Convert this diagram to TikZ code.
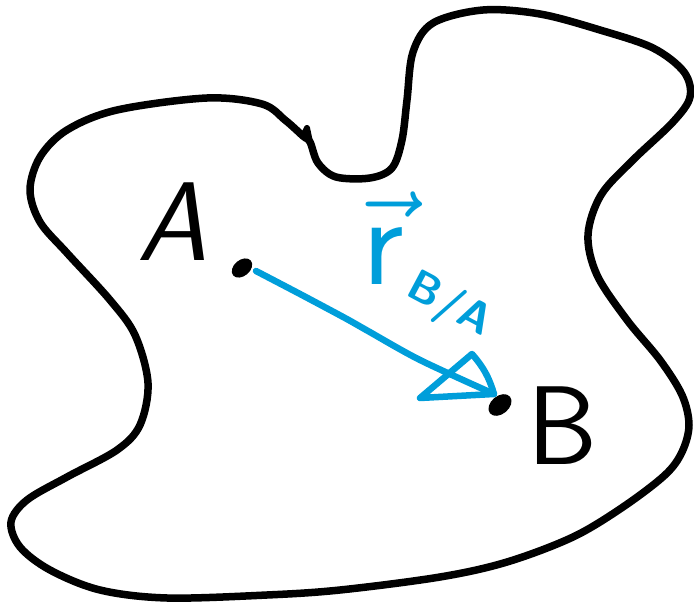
\RequirePackage{fix-cm}
\documentclass[tikz,border=0pt]{standalone}
\usepackage{graphicx}
\usetikzlibrary{calc}
\definecolor{vecblue}{RGB}{0,158,218}
\begin{document}
\begin{tikzpicture}[x=1pt,y=-1pt,line cap=round,line join=round,
  outline/.style={draw=black,line width=7.5pt},
  vecline/.style={draw=vecblue,line width=6.5pt},
  ptlabel/.style={font=\fontsize{112}{112}\selectfont\sffamily,text=black,inner sep=0pt}]
\useasboundingbox (0,0) rectangle (694,604);
% body outline
\draw[outline] plot[smooth cycle,tension=0.55] coordinates {
 (310,142) (318,163) (336,177) (370,178) (392,168) (402,140) (407,100)
 (413,52) (433,23) (483,10) (540,14) (600,30) (653,48) (684,72) (690,97)
 (673,122) (633,160) (601,195) (588,235) (597,275) (627,320) (660,360)
 (682,395) (689,425) (682,452) (665,475) (623,507) (573,537) (507,562)
 (440,577) (340,590) (267,595) (167,598) (100,590) (50,570) (20,547)
 (11,522) (27,500) (67,477) (117,450) (140,425) (148,383) (135,335)
 (110,300) (67,253) (40,222) (30,190) (40,157) (67,130) (117,110)
 (207,98) (262,104) (285,120) (303,136)};
\draw[outline,line width=6pt] (303,136) -- (307,128) -- (310,142);
% points
\coordinate (A) at (242,268);
\coordinate (B) at (500,405);
\fill[rotate around={40:(A)}] (A) ellipse [x radius=11.5, y radius=8];
\fill[rotate around={40:(B)}] (B) ellipse [x radius=13, y radius=9];
% position vector
\coordinate (tip) at (494,394);
\coordinate (hl) at (472,354);
\coordinate (hb) at (420,398);
\coordinate (A1) at ($(A)+(14,3)$);
\draw[vecline] plot[smooth,tension=0.5] coordinates {
 (A1) (300,294) (345,318) (368,331) (420,360) (tip)};
\draw[vecline] (hl) to[bend left=12] (tip) -- (hb) -- cycle;
% labels
\node[ptlabel,font=\fontsize{112}{112}\selectfont\sffamily\slshape] (lA) at (172,222) {A};
\node[ptlabel] (lB) at (563,426) {B};
\node[text=vecblue,inner sep=0pt,anchor=base west] (lr) at (362,285)
 {\fontsize{130}{130}\selectfont$\vec{\mathsf{r}}$\hspace{-6pt}\raisebox{-10pt}{\rotatebox{-28}{\fontsize{44}{44}\selectfont\sffamily\bfseries B/A}}};
\end{tikzpicture}
\end{document}
